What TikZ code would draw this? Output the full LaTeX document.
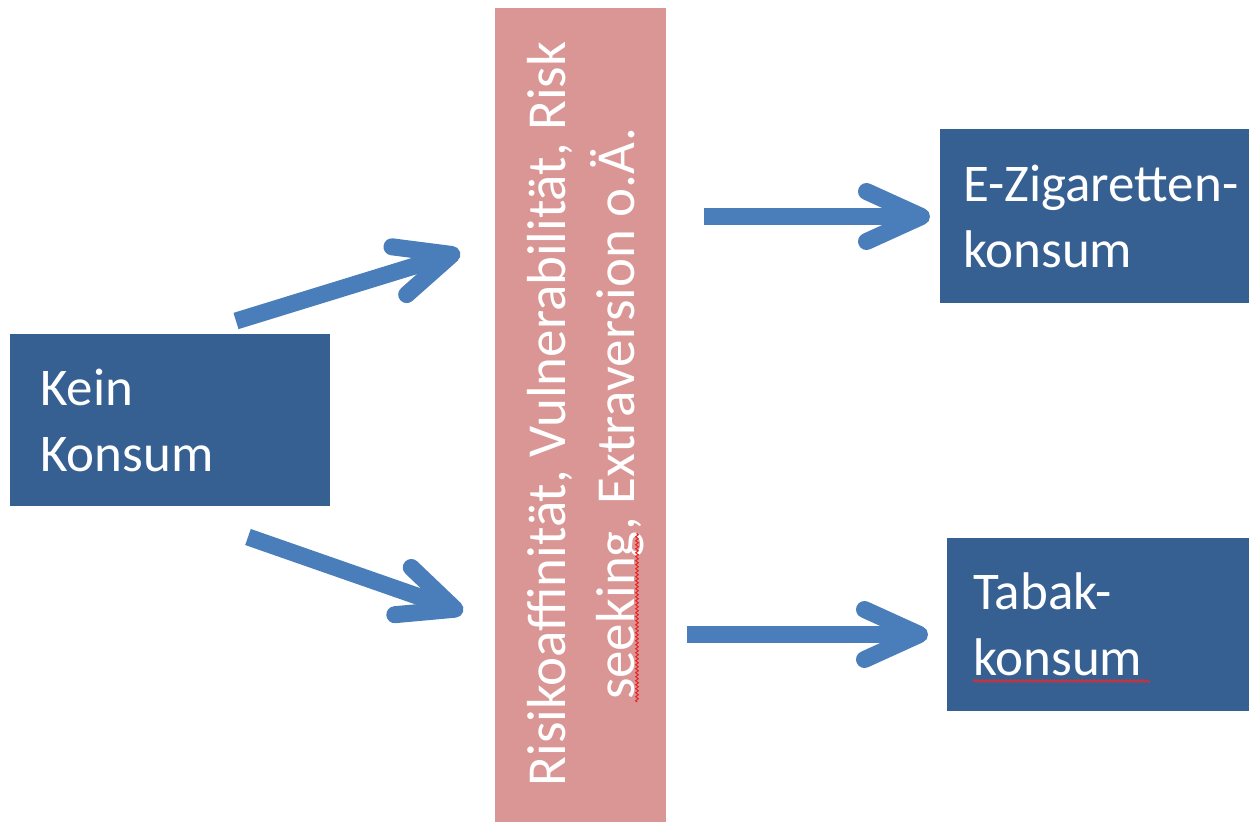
\documentclass[tikz,border=0pt]{standalone}
\usepackage{fontspec}
\setmainfont{Carlito}
\usetikzlibrary{arrows.meta,decorations.pathmorphing}

\definecolor{boxblue}{HTML}{376092}
\definecolor{arrowblue}{HTML}{4A7EBB}
\definecolor{barred}{HTML}{D99694}
\definecolor{spellred}{HTML}{E8282B}

\begin{document}
\begin{tikzpicture}[x=1pt,y=-1pt,
  stagebox/.style={fill=boxblue, draw=none, text=white, align=left,
    font=\fontsize{53}{66}\selectfont, anchor=north west},
  factorbar/.style={fill=barred, draw=none},
  factortext/.style={text=white, align=center, rotate=90, inner sep=0pt,
    font=\fontsize{55}{69}\selectfont},
  flow/.style={draw=arrowblue, line width=17pt, line cap=butt,
    -{Straight Barb[length=55pt,width=50pt,line cap=round,line join=round]}},
  spellmark/.style={draw=spellred, line width=1.1pt, decorate,
    decoration={snake, amplitude=1.3pt, segment length=4pt}}]

\useasboundingbox (0,0) rectangle (1249,822);

% stages
\node[stagebox, minimum width=320pt, minimum height=172pt, text width=260pt,
      inner xsep=30pt, inner ysep=0pt] (kein) at (10,334) {Kein\\Konsum};
\node[stagebox, minimum width=309pt, minimum height=174pt, text width=286pt,
      inner xsep=23pt, inner ysep=0pt] (ezig) at (940,129) {E-Zigaretten-\\konsum};
\node[stagebox, minimum width=302pt, minimum height=173pt, text width=250pt,
      inner xsep=26pt, inner ysep=0pt] (tabak) at (947,538) {Tabak-\\konsum};

% mediating factors
\node[factorbar, minimum width=171pt, minimum height=814pt, inner sep=0pt]
  (factors) at (580.5,415) {};
\node[factortext] (factorlabel) at (585.5,414)
  {Risikoaffinität, Vulnerabilität, Risk\\seeking, Extraversion o.Ä.};

% arrow end points
\coordinate (a1s) at (236,321);  \coordinate (a1e) at (460,252);
\coordinate (a2s) at (248,537);  \coordinate (a2e) at (463,612);
\coordinate (a3s) at (704,216.5);  \coordinate (a3e) at (930,216.5);
\coordinate (a4s) at (687,634.5);  \coordinate (a4e) at (928,634.5);

\draw[flow] (a1s) -- (a1e);
\draw[flow] (a2s) -- (a2e);
\draw[flow] (a3s) -- (a3e);
\draw[flow] (a4s) -- (a4e);

% spell-check marks
\coordinate (s1a) at (637,702); \coordinate (s1b) at (637,533);
\coordinate (s2a) at (973,681); \coordinate (s2b) at (1150,681);
\draw[spellmark] (s1a) -- (s1b);
\draw[spellmark] (s2a) -- (s2b);
\end{tikzpicture}
\end{document}
